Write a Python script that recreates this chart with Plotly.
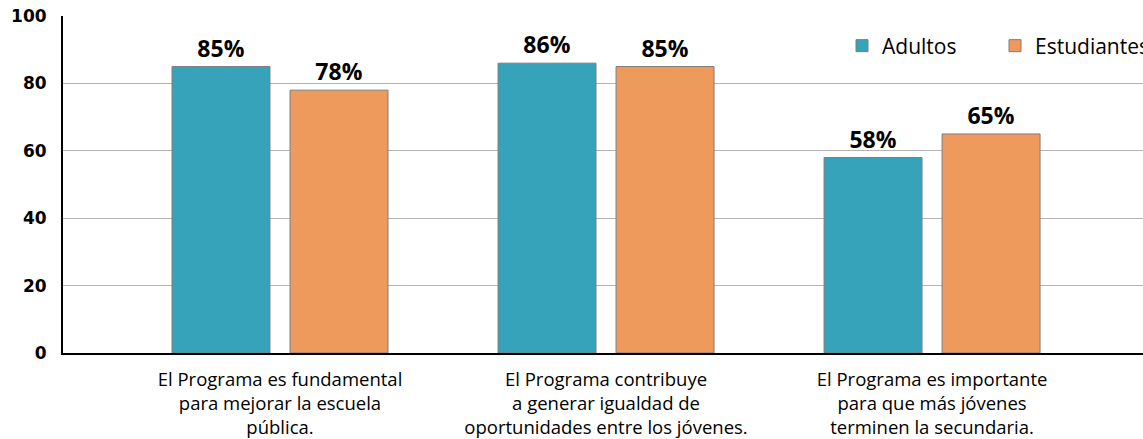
import plotly.graph_objects as go

categories = [
    "El Programa es fundamental<br>para mejorar la escuela<br>pública.",
    "El Programa contribuye<br>a generar igualdad de<br>oportunidades entre los jóvenes.",
    "El Programa es importante<br>para que más jóvenes<br>terminen la secundaria.",
]
adultos = [85, 86, 58]
estudiantes = [78, 85, 65]
y_ticks = [0, 20, 40, 60, 80, 100]

idx = list(range(len(categories)))
label_font = dict(family="Open Sans", size=23, color="black", weight="bold")

fig = go.Figure()
fig.add_trace(go.Bar(
    x=idx, y=adultos, name="Adultos",
    marker=dict(color="#37a3bb", line=dict(color="#7d7d7d", width=1)),
    text=[f"{v}%" for v in adultos], textposition="outside",
    textfont=label_font, cliponaxis=False,
))
fig.add_trace(go.Bar(
    x=idx, y=estudiantes, name="Estudiantes",
    marker=dict(color="#ee9a5c", line=dict(color="#7d7d7d", width=1)),
    text=[f"{v}%" for v in estudiantes], textposition="outside",
    textfont=label_font, cliponaxis=False,
))

fig.update_layout(
    width=1143, height=439,
    margin=dict(l=63, r=0, t=16, b=86, autoexpand=False),
    plot_bgcolor="white", paper_bgcolor="white",
    barmode="group", bargap=0.276, bargroupgap=0.17,
    font=dict(family="Open Sans", size=18.5, color="black"),
    legend=dict(orientation="h", x=0.7213, y=0.911, xanchor="left", yanchor="middle",
                font=dict(family="Open Sans", size=21, color="black"),
                bgcolor="rgba(0,0,0,0)", itemwidth=30, entrywidth=108,
                traceorder="normal"),
    xaxis=dict(
        range=[-0.6656, 2.647], tickmode="array", tickvals=idx, ticktext=categories,
        showgrid=False, showline=True, linecolor="black", linewidth=2,
        ticks="", tickfont=dict(family="Open Sans", size=18.5, color="black"),
        zeroline=False, ticklabelstandoff=9, automargin=False,
    ),
    yaxis=dict(
        range=[0, 100], tickmode="array", tickvals=y_ticks,
        showgrid=True, gridcolor="#b4b4b4", gridwidth=1,
        showline=True, linecolor="black", linewidth=2,
        zeroline=False, ticks="", ticklabeloverflow="allow", automargin=False,
        tickfont=dict(family="DejaVu Sans", size=17, color="black", weight="bold"),
        ticklabelstandoff=11,
    ),
)

fig.write_html(
    "out.html",
    config={"displayModeBar": False},
    post_script="document.body.style.margin='0';document.body.style.overflow='hidden';",
)
